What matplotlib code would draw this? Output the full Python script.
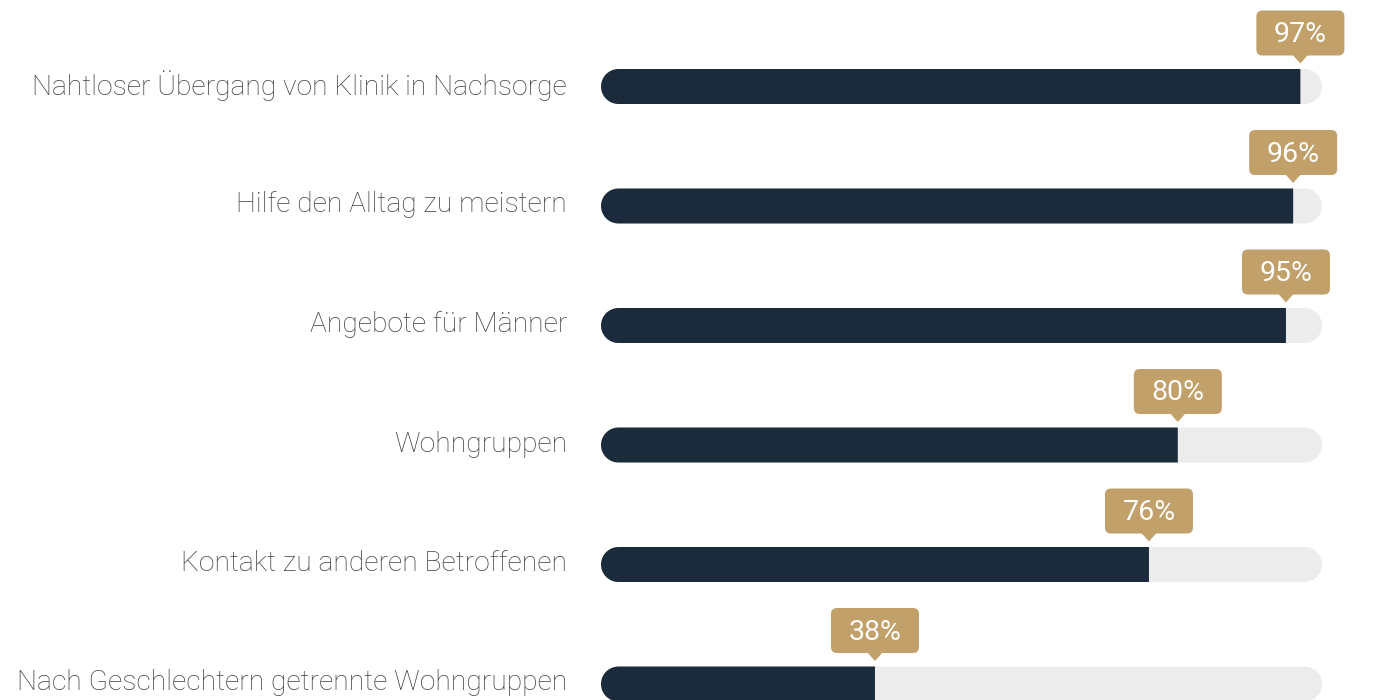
import matplotlib
matplotlib.use("Agg")
import numpy as np
import matplotlib.pyplot as plt
from matplotlib.patches import FancyBboxPatch, Polygon

categories = [
    "Nahtloser Übergang von Klinik in Nachsorge",
    "Hilfe den Alltag zu meistern",
    "Angebote für Männer",
    "Wohngruppen",
    "Kontakt zu anderen Betroffenen",
    "Nach Geschlechtern getrennte Wohngruppen",
]
values = [97, 96, 95, 80, 76, 38]
value_labels = ["97%", "96%", "95%", "80%", "76%", "38%"]

DARK = "#1c2b3b"
GRAY = "#ececec"
GOLD = "#c1a06a"
TEXT = "#404040"

W, H, DPI = 1376, 700, 100
fig = plt.figure(figsize=(W / DPI, H / DPI), dpi=DPI)
ax = fig.add_axes([0, 0, 1, 1])
ax.set_axis_off()

x0_px, x100_px = 601, 1322
sx = (x100_px - x0_px) / 100.0
ax.set_xlim(-x0_px / sx, (W - x0_px) / sx)
y0_px, dy_px = 86.5, 119.5
ax.set_ylim((H - y0_px) / dy_px, -y0_px / dy_px)

bar_px = 35
rad = bar_px / 2
theta = np.linspace(np.pi / 2, 3 * np.pi / 2, 40)

def disp(x, y):
    return ax.transData.transform((x, y))

def capsule(xl, xr, yc, left_round=True, right_round=True):
    pts = []
    if left_round:
        pts += list(zip(xl + rad + rad * np.cos(theta), yc + rad * np.sin(theta)))
    else:
        pts += [(xl, yc + rad), (xl, yc - rad)]
    if right_round:
        pts += list(zip(xr - rad + rad * np.cos(theta + np.pi), yc + rad * np.sin(theta + np.pi)))
    else:
        pts += [(xr, yc - rad), (xr, yc + rad)]
    return pts

for i, (cat, v, lab) in enumerate(zip(categories, values, value_labels)):
    xa, yc = disp(0, i)
    xb, _ = disp(100, i)
    xv, _ = disp(v, i)
    # background track (rounded both ends)
    fig.patches.append(Polygon(capsule(xa, xb, yc), closed=True, transform=None,
                               fc=GRAY, ec="none", zorder=1))
    # value bar: rounded left, flat right
    fig.patches.append(Polygon(capsule(xa, xv, yc, right_round=False), closed=True,
                               transform=None, fc=DARK, ec="none", zorder=2))
    # category label
    fig.text(567 / W, (yc + 1) / H, cat, ha="right", va="center",
             fontsize=20.3, color=TEXT, family="Roboto", fontweight="light")
    # tooltip
    bw, bh, br = 88, 45, 6
    cy = yc + 53.5
    fig.patches.append(FancyBboxPatch((xv - bw / 2 + br, cy - bh / 2 + br), bw - 2 * br, bh - 2 * br,
                                      boxstyle=f"round,pad={br}", transform=None, fc=GOLD,
                                      ec="none", zorder=5))
    fig.patches.append(Polygon([(xv - 8, cy - bh / 2 + 1), (xv + 8, cy - bh / 2 + 1),
                                (xv, cy - bh / 2 - 8)],
                               closed=True, transform=None, fc=GOLD, ec="none", zorder=5))
    fig.text(xv / W, (cy - 1.5) / H, lab, ha="center", va="center", fontsize=20.5,
             color="white", family="Roboto", fontweight="normal", zorder=6)

fig.savefig("out.png", dpi=DPI, facecolor="white")
